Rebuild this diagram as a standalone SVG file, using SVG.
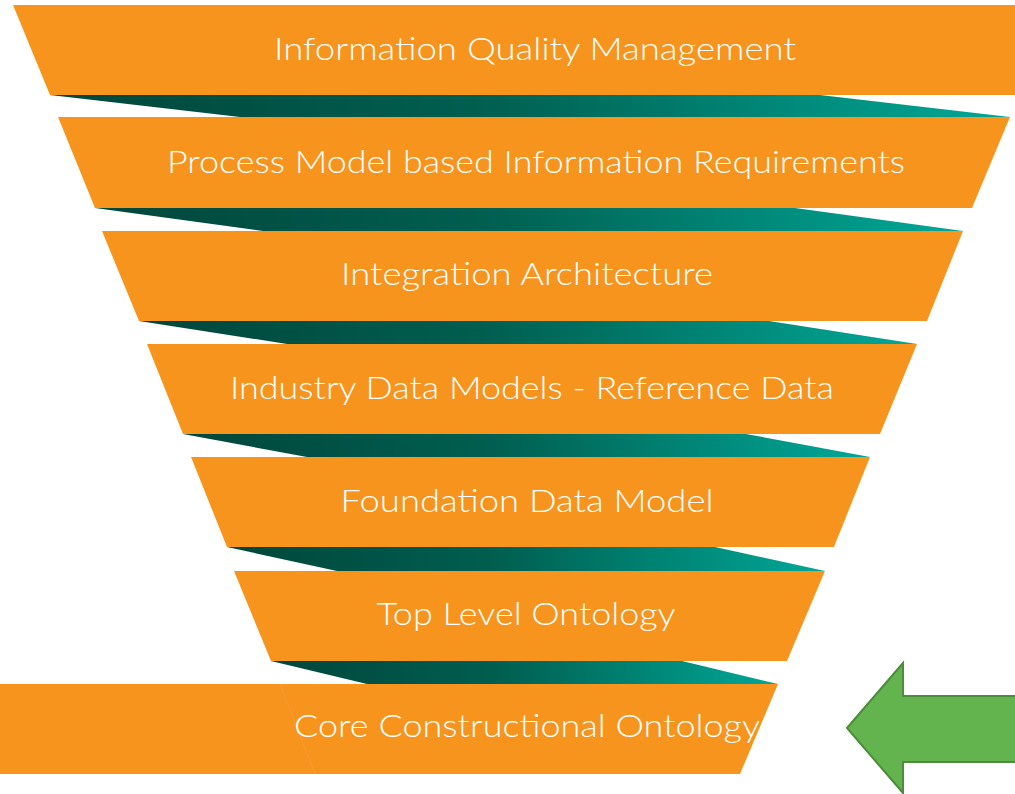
<svg xmlns="http://www.w3.org/2000/svg" width="1015" height="794" viewBox="0 0 1015 794">
<style>
.band{fill:#f7941e}
.conn{fill:url(#tg)}
.lbl{fill:#ffffff;font-family:"Lato","Open Sans","Liberation Sans",sans-serif;font-weight:300;font-size:32px;text-anchor:middle}
</style>
<defs>
<linearGradient id="tg" x1="0" y1="0" x2="1" y2="0">
<stop offset="0" stop-color="#00463b"/>
<stop offset="0.45" stop-color="#005f50"/>
<stop offset="1" stop-color="#00a898"/>
</linearGradient>
</defs>
<rect width="1015" height="794" fill="#ffffff"/>
<g id="connectors">
<polygon class="conn" points="50,95 820,95 1010,117 240,117"/>
<polygon class="conn" points="95,208 795,208 963,231 263,231"/>
<polygon class="conn" points="139,321 769,321 917,344 287,344"/>
<polygon class="conn" points="183,434 746,434 870,457 307,457"/>
<polygon class="conn" points="227,547 715,547 825,571 337,571"/>
<polygon class="conn" points="271,661 682,661 778,684 367,684"/>
</g>
<g id="band1"><polygon class="band" points="13,5 1015,5 1015,95 50,95"/><text class="lbl" x="535" y="60" textLength="522" lengthAdjust="spacingAndGlyphs">Information Quality Management</text></g>
<g id="band2"><polygon class="band" points="58,117 1010,117 972,208 95,208"/><text class="lbl" x="536" y="173" textLength="738" lengthAdjust="spacingAndGlyphs">Process Model based Information Requirements</text></g>
<g id="band3"><polygon class="band" points="102,231 963,231 927,321 139,321"/><text class="lbl" x="527" y="285" textLength="372" lengthAdjust="spacingAndGlyphs">Integration Architecture</text></g>
<g id="band4"><polygon class="band" points="147,344 917,344 880,434 183,434"/><text class="lbl" x="532" y="399" textLength="604" lengthAdjust="spacingAndGlyphs">Industry Data Models - Reference Data</text></g>
<g id="band5"><polygon class="band" points="191,457 870,457 834,547 227,547"/><text class="lbl" x="527" y="512" textLength="373" lengthAdjust="spacingAndGlyphs">Foundation Data Model</text></g>
<g id="band6"><polygon class="band" points="234,571 825,571 787,661 271,661"/><text class="lbl" x="526" y="625" textLength="299" lengthAdjust="spacingAndGlyphs">Top Level Ontology</text></g>
<g id="band7"><polygon class="band" points="0,684 778,684 740,774 0,774"/><line x1="280" y1="684" x2="315" y2="774" stroke="#f89c30" stroke-width="1"/><text class="lbl" x="527" y="737" textLength="466" lengthAdjust="spacingAndGlyphs">Core Constructional Ontology</text></g>
<g id="arrow"><polygon points="847,728 903,663 903,696 1016,696 1016,762 903,762 903,793" fill="#63b44e" stroke="#4c8c3a" stroke-width="2"/></g>
</svg>
